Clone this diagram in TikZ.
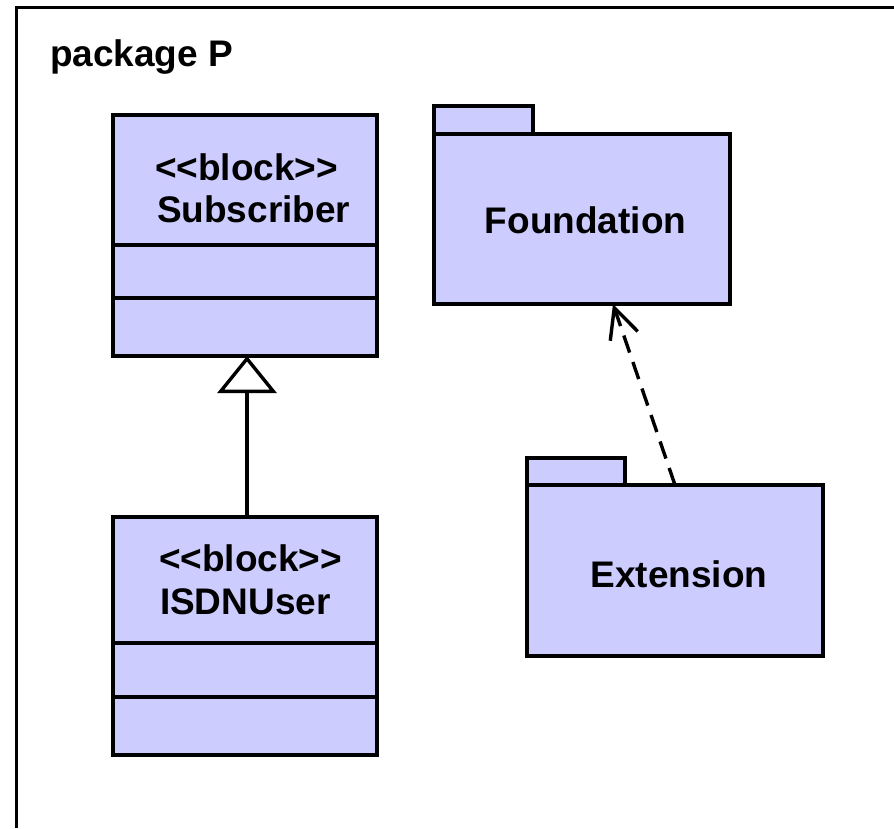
\documentclass[tikz,border=0pt]{standalone}
\usepackage{fontspec}
\setmainfont{Liberation Sans}
\usetikzlibrary{arrows.meta,calc}
\definecolor{blockfill}{HTML}{CCCCFF}
\begin{document}
\begin{tikzpicture}[x=1pt,y=-1pt,
  lbl/.style={font=\fontsize{37}{44}\selectfont\bfseries, inner sep=0pt, outer sep=0pt},
  blockbox/.style={draw=black, line width=3.4pt, fill=blockfill, inner sep=0pt, outer sep=0pt, minimum width=264pt},
  pkgbody/.style={draw=black, line width=3.4pt, fill=blockfill, inner sep=0pt, outer sep=0pt, minimum width=296pt},
  pkgtab/.style={draw=black, line width=3.4pt, fill=blockfill, inner sep=0pt, outer sep=0pt, anchor=south west},
  divider/.style={draw=black, line width=3.4pt},
  frameline/.style={draw=black, line width=3.4pt},
  gen/.style={draw=black, line width=3.4pt, -{Triangle[length=37pt,width=59pt,fill=white]}},
  dep/.style={draw=black, line width=3.4pt, dash pattern=on 18pt off 10pt, -{Straight Barb[length=30pt,width=29pt]}}
]
\useasboundingbox (0,0) rectangle (894,828);

% outer frame (cut by the picture edge)
\draw[frameline] (16.5,828) -- (16.5,7.5) -- (894,7.5);
\node[lbl, anchor=base west] (title) at (50,66) {package P};

% Subscriber block
\node[blockbox, minimum height=241pt] (sub) at (245,235.5) {};
\draw[divider] ($(sub.north west)+(0,130)$) -- ($(sub.north east)+(0,130)$);
\draw[divider] ($(sub.north west)+(0,183)$) -- ($(sub.north east)+(0,183)$);
\node[lbl, anchor=base west] (subst) at (155,180) {<\kern0pt<block>\kern0pt>};
\node[lbl, anchor=base west] (subnm) at (157,222) {Subscriber};

% ISDNUser block
\node[blockbox, minimum height=238pt] (isdn) at (245,636) {};
\draw[divider] ($(isdn.north west)+(0,126)$) -- ($(isdn.north east)+(0,126)$);
\draw[divider] ($(isdn.north west)+(0,180)$) -- ($(isdn.north east)+(0,180)$);
\node[lbl, anchor=base west] (isdnst) at (159,571) {<\kern0pt<block>\kern0pt>};
\node[lbl, anchor=base west] (isdnnm) at (160,614) {ISDNUser};

% Foundation package
\node[pkgbody, minimum height=170pt] (fnd) at (582,219) {};
\node[pkgtab, minimum width=99pt, minimum height=28pt] (fndtab) at (fnd.north west) {};
\node[lbl, anchor=base] (fndlbl) at (585.5,233) {Foundation};

% Extension package
\node[pkgbody, minimum height=171pt] (ext) at (675,570.5) {};
\node[pkgtab, minimum width=98pt, minimum height=27pt] (exttab) at (ext.north west) {};
\node[lbl, anchor=base] (extlbl) at (679,587) {Extension};

% connectors
\draw[gen] ($(isdn.north)+(2,0)$) -- ($(sub.south)+(2,0)$);
\draw[dep] (ext.north) -- ($(fnd.south)+(31,0)$);
\end{tikzpicture}
\end{document}
